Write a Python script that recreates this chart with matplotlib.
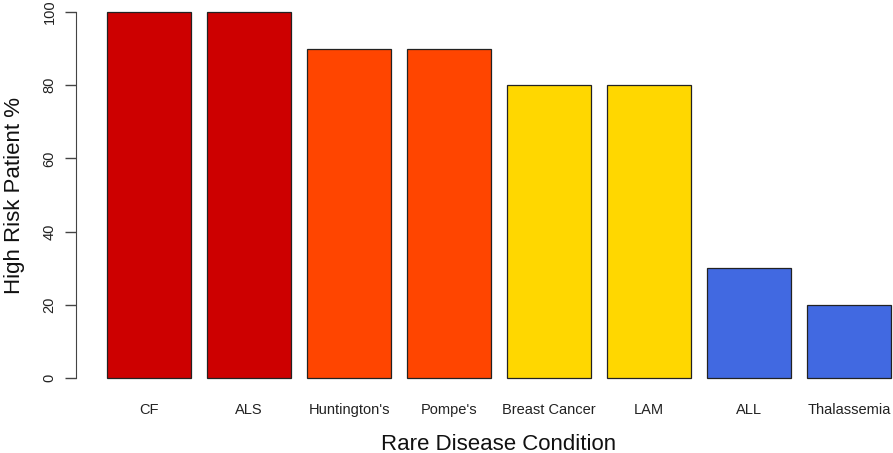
import matplotlib
matplotlib.use("Agg")
import matplotlib.pyplot as plt
import numpy as np

categories = ["CF", "ALS", "Huntington's", "Pompe's", "Breast Cancer", "LAM", "ALL", "Thalassemia"]
values = [100, 100, 90, 90, 80, 80, 30, 20]
colors = ["#CD0000", "#CD0000", "#FF4500", "#FF4500", "#FFD700", "#FFD700", "#4169E1", "#4169E1"]
yticks = [0, 20, 40, 60, 80, 100]

plt.rcParams['font.family'] = ['Liberation Sans', 'DejaVu Sans']

W, H = 893, 453
fig = plt.figure(figsize=(W/100, H/100), dpi=100)
left_px, right_px = 76, 893
top_px, bot_px = 12, 378
ax = fig.add_axes([left_px/W, (H-bot_px)/H, (right_px-left_px)/W, (bot_px-top_px)/H])

x = np.arange(len(categories))
ax.bar(x, values, width=0.84, color=colors, edgecolor="#222222", linewidth=0.9, clip_on=False)
ax.set_xlim(-0.73, 7.44)
ax.set_ylim(0, 100)

for s in ["top", "right", "bottom"]:
    ax.spines[s].set_visible(False)
ax.spines["left"].set_color("#444444")
ax.spines["left"].set_bounds(0, 100)

ax.set_yticks(yticks)
ax.set_yticklabels([str(v) for v in yticks], rotation=90, va="center", fontsize=10.5, color="#222222")
ax.tick_params(axis="y", length=8, width=1, color="#444444", pad=6)
ax.set_xticks(x)
ax.set_xticklabels(categories, fontsize=10.5, color="#222222")
ax.tick_params(axis="x", length=0, pad=18)

# axis titles placed at fixed pixel positions like the reference
fig.text(15/W, 1 - 195/H, "High Risk Patient %", rotation=90, ha="center", va="center",
         fontsize=16, color="#111111")
fig.text(499/W, 1 - 444/H, "Rare Disease Condition", ha="center", va="center",
         fontsize=16, color="#111111")

fig.savefig("out.png", dpi=100)
